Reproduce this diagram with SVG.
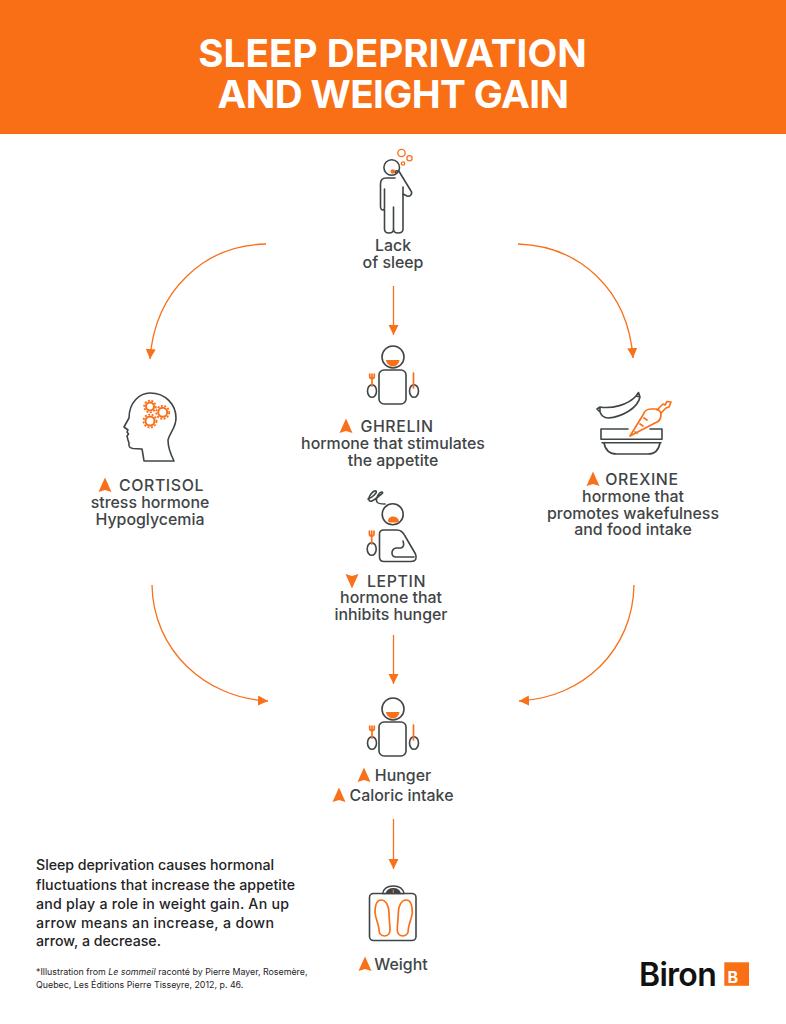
<svg xmlns="http://www.w3.org/2000/svg" width="786" height="1024" viewBox="0 0 786 1024">
<style>
.t{font-family:Inter,"Liberation Sans",sans-serif;font-size:15.9px;fill:#3f4547;text-anchor:middle;font-weight:500}
.k{letter-spacing:.6px}
.b{font-family:Inter,"Liberation Sans",sans-serif;font-size:14.2px;fill:#1f2426;font-weight:500}
.f{font-family:Inter,"Liberation Sans",sans-serif;font-size:8.85px;fill:#1f2426}
.h{font-family:Inter,"Liberation Sans",sans-serif;font-size:38.7px;fill:#fff;text-anchor:middle;font-weight:700}
.d{fill:none;stroke:#3f4547;stroke-width:1.6;stroke-linejoin:round;stroke-linecap:round}
.o{fill:none;stroke:#f9701a;stroke-width:1.7;stroke-linejoin:round;stroke-linecap:round}
.of{fill:#f9701a}
.c{fill:none;stroke:#f9701a;stroke-width:1.3}
</style>
<defs>
<marker id="a" markerUnits="userSpaceOnUse" markerWidth="12" markerHeight="12" refX="10" refY="5" orient="auto"><path d="M0 0L10 5L0 10Z" fill="#f9701a"/></marker>
<path id="up" d="M0-7.500L6.500 7L0 5L-6.500 7Z" fill="#f9701a"/>
<g id="eater">
<circle cx="0" cy="0" r="11" class="d"/>
<path d="M-7 3H6.500C6 7 3 9.500 0 9.500S-6.500 7-7 3Z" class="of"/>
<rect x="-14" y="13" width="27" height="34" rx="5" class="d"/>
<ellipse cx="-21" cy="34" rx="4.500" ry="6.300" class="d"/>
<ellipse cx="21" cy="34" rx="4.500" ry="6.300" class="d"/>
<path d="M-21 29V21M-23.300 17V19.500Q-23.300 21.500-21 21.500T-18.700 19.500V17M-21 17V21" class="o"/>
<path d="M20.500 31V16" class="o"/>
</g>
</defs>
<rect width="786" height="134" fill="#f96f16"/>
<g id="title"><text x="392.500" y="66.500" class="h">SLEEP DEPRIVATION</text><text x="393" y="107.500" class="h" letter-spacing="-.6">AND WEIGHT GAIN</text></g>
<g id="connectors">
<path class="c" marker-end="url(#a)" d="M266 244C205 245 155 290 150 359"/>
<path class="c" marker-end="url(#a)" d="M518 244C580 246 628 290 633 358"/>
<path class="c" marker-end="url(#a)" d="M393.500 286V335"/>
<path class="c" marker-end="url(#a)" d="M152 585C153 650 205 698 268 701"/>
<path class="c" marker-end="url(#a)" d="M634 585C633 650 583 698 519 701"/>
<path class="c" marker-end="url(#a)" d="M393.500 635V684"/>
<path class="c" marker-end="url(#a)" d="M393.500 819V869"/>
</g>
<g id="lack-of-sleep">
<circle cx="391.700" cy="167.500" r="7.800" class="d"/>
<circle cx="392.800" cy="171.500" r="2.300" class="of"/>
<circle cx="401.500" cy="153" r="3.700" fill="none" stroke="#f9701a" stroke-width="1.300"/>
<circle cx="409.500" cy="158.300" r="2.600" fill="none" stroke="#f9701a" stroke-width="1.300"/>
<circle cx="403" cy="163.500" r="1.700" fill="none" stroke="#f9701a" stroke-width="1.300"/>
<path class="d" d="M396 173C394 170 399 170 400 173L411 191C413 194 410 197 407 196L403 194V229Q403 233 398 233Q393.500 233 393.500 229V207M393.500 207V229Q393.500 233 389 233Q384.500 233 384.500 229V209.500M380.500 184V206Q380.500 210 383 210Q384.500 210 384.500 207V189M380.500 184Q380.500 178 386 178H395"/>
<path class="d" d="M403 194V187"/>
<text class="t" x="393" y="251">Lack</text><text class="t" x="393" y="268">of sleep</text>
</g>
<g id="ghrelin">
<use href="#eater" x="393" y="357"/>
<use href="#up" x="346" y="426"/>
<text class="t k" x="397" y="432">GHRELIN</text>
<text class="t" x="393" y="449">hormone that stimulates</text>
<text class="t" x="393" y="466">the appetite</text>
</g>
<g id="leptin">
<circle cx="392.700" cy="514.300" r="10.500" class="d"/>
<path d="M388 521C388 515 398 515 399 521Q399 522.500 397 522.500H390Q388 522.500 388 521Z" class="of"/>
<path class="d" d="M384 530H397Q402 530 405 536L415.500 554Q418 561.500 411 561.500H384Q379.500 561.500 379.500 557V534Q379.500 530 384 530ZM403 541Q405 547 401 548H396Q392 549 392 553Q392 557 396 557H414"/>
<ellipse cx="371.700" cy="549" rx="4.500" ry="6.300" class="d"/>
<path class="o" d="M371.700 544V536M369.400 531V534Q369.400 536 371.700 536T374 534V531M371.700 531V536"/>
<path class="d" d="M368 499C372 498 378 492 376 491C373 490 368 497 369 500C370 503 374 500 378 497C381 494 384 493 382 492C379 492 375 499 377 502C378 504 382 504 385 504"/>
<use href="#up" transform="translate(352 581) rotate(180)"/>
<text class="t k" x="396.500" y="587">LEPTIN</text>
<text class="t" x="391" y="603">hormone that</text>
<text class="t" x="391" y="620">inhibits hunger</text>
</g>
<g id="cortisol">
<path class="d" d="M174 461H144Q143 454 142 449L133 448.500Q128 448 129 443L128 440L127 436L128.500 434L127 432L128 430L124 427L129 418C129 402 140 393 150 393C166 393 176 405 176 418C176 428 170 432 168 440C168 448 171 455 174 461Z"/>
<g fill="none" stroke="#f9701a">
<circle cx="150" cy="406.500" r="4" stroke-width="2"/><circle cx="150" cy="406.500" r="5.800" stroke-width="1.800" stroke-dasharray="2 1.500"/>
<circle cx="162.700" cy="412.300" r="4.500" stroke-width="2"/><circle cx="162.700" cy="412.300" r="6.500" stroke-width="1.800" stroke-dasharray="2 1.500"/>
<circle cx="150" cy="421" r="4.500" stroke-width="2"/><circle cx="150" cy="421" r="6.500" stroke-width="1.800" stroke-dasharray="2 1.500"/>
</g>
<use href="#up" x="105" y="485"/>
<text class="t k" x="161.500" y="491">CORTISOL</text>
<text class="t" x="150" y="508">stress hormone</text>
<text class="t" x="150" y="525">Hypoglycemia</text>
</g>
<g id="orexine">
<path class="d" d="M600 407C612 409 628 405 636 396L640 397C638 408 622 417 608 418C604 418 601 415 600 412ZM600 407L597 409L600 412M636 396L638.500 392.500L640 397"/>
<path class="d" d="M628 429H601V439.300H662V429H650M602 442.800H661M604 443Q606 454 617 454H648Q658 454 660 443"/>
<path d="M630 436L643 415Q645 409 651 409H656Q661 410 661 415Q661 421 655 423Z" fill="#fff" stroke="#f9701a" stroke-width="1.700" stroke-linejoin="round"/>
<path class="o" d="M657 410L663 404L665 405L667 401.500L671 402L669 407L666 408L661 413M640 424L643 426M644 418L647 420M635 432L637 433"/>
<use href="#up" x="593" y="479"/>
<text class="t k" x="642" y="485">OREXINE</text>
<text class="t" x="633" y="502">hormone that</text>
<text class="t" x="633" y="519">promotes wakefulness</text>
<text class="t" x="633" y="535">and food intake</text>
</g>
<g id="hunger">
<use href="#eater" x="393" y="709"/>
<use href="#up" x="364" y="775"/><text class="t" x="403" y="781">Hunger</text>
<use href="#up" x="339" y="795"/><text class="t" x="401.500" y="801">Caloric intake</text>
</g>
<g id="weight">
<rect x="369.500" y="893.500" width="46.500" height="47" rx="4" class="d"/>
<path d="M382.700 893.500Q384 886 393.300 886T404 893.500Z" fill="#fff" stroke="#3f4547" stroke-width="1.400"/>
<path d="M385.500 893.500Q387 888 393.300 888T401 893.500Z" fill="#3f4547"/>
<path d="M393.300 889.500V893" stroke="#f9701a" stroke-width="1.200"/>
<path class="o" d="M381 900C376 900 375 907 375 913C376 920 379 925 379 930C379 938 390 938 390 930C390 925 389 918 389 913C389 906 386 900 381 900ZM406.300 900C411.300 900 412.300 907 412.300 913C411.300 920 408.300 925 408.300 930C408.300 938 397.300 938 397.300 930C397.300 925 398.300 918 398.300 913C398.300 906 401.300 900 406.300 900Z"/>
<use href="#up" x="365" y="964"/><text class="t" x="401" y="970">Weight</text>
</g>
<g id="note">
<text class="b" x="36" y="870" textLength="238">Sleep deprivation causes hormonal</text>
<text class="b" x="36" y="890" textLength="259">fluctuations that increase the appetite</text>
<text class="b" x="36" y="909" textLength="253">and play a role in weight gain. An up</text>
<text class="b" x="36" y="928" textLength="238">arrow means an increase, a down</text>
<text class="b" x="36" y="946" textLength="125">arrow, a decrease.</text>
<text class="f" x="36" y="975">*Illustration from <tspan font-style="italic">Le sommeil</tspan> raconté by Pierre Mayer, Rosemère,</text>
<text class="f" x="36" y="988">Quebec, Les Éditions Pierre Tisseyre, 2012, p. 46.</text>
</g>
<g id="logo">
<text x="639" y="986" font-family="Inter,'Liberation Sans',sans-serif" font-size="32" font-weight="600" fill="#111" letter-spacing="-.7">Biron</text>
<rect x="724.300" y="962.300" width="24.700" height="23.500" fill="#f96f16"/>
<text x="727.500" y="983" font-family="Inter,'Liberation Sans',sans-serif" font-size="16" font-weight="700" fill="#fff">B</text>
</g>
</svg>
